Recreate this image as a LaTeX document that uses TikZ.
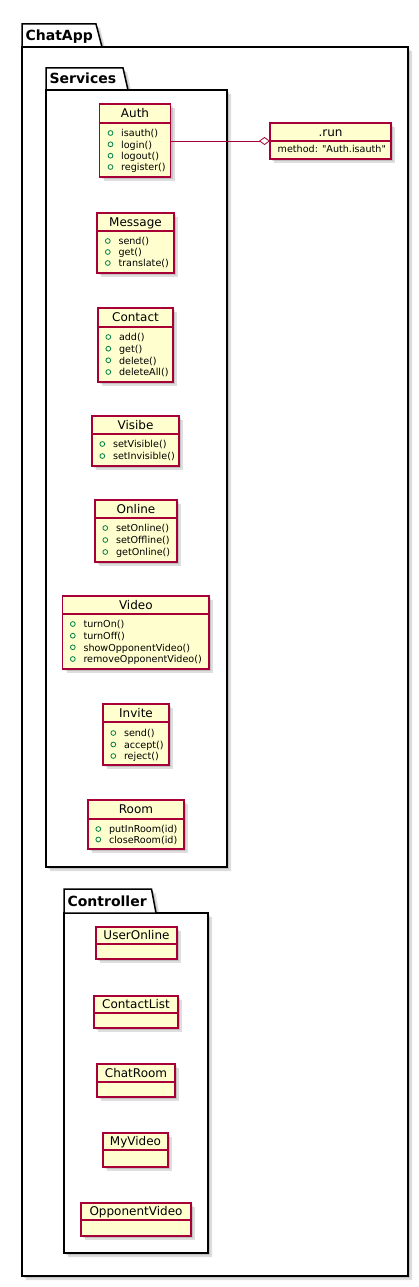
\documentclass[tikz,border=0pt]{standalone}
\usepackage{fontspec}
\setmainfont{DejaVu Sans}
\usetikzlibrary{fit,arrows.meta}
\definecolor{clsfill}{HTML}{FEFECE}
\definecolor{clsline}{HTML}{A80036}
\definecolor{visgreen}{HTML}{038048}
\tikzset{
 clsbox/.style={draw=clsline, fill=clsfill, line width=1.2pt, inner sep=0pt, outer sep=0pt},
 clssep/.style={draw=clsline, line width=1.2pt},
 clsname/.style={font=\fontsize{12}{14}\selectfont, inner sep=0pt, anchor=base},
 meth/.style={font=\fontsize{9.6}{11}\selectfont, inner sep=0pt, anchor=base west},
 vis/.style={draw=visgreen, line width=0.8pt},
 pkgline/.style={draw=black, line width=1.5pt, fill=white, line join=miter},
 pkgbody/.style={draw=black, line width=1.5pt, fill=white, inner sep=0pt, outer sep=0pt},
 pkgname/.style={font=\bfseries\fontsize{14}{16}\selectfont, inner sep=0pt, anchor=base west},
 shadowc/.style={fill=black, opacity=0.13},
 assoc/.style={draw=clsline, line width=0.8pt},
}
% #1 id, #2 title, #3 x1, #4 y1, #5 x2, #6 y2, #7 separator y
\newcommand\umlcls[7]{%
 \fill[shadowc] (#3+2,#4+2) rectangle (#5+2,#6+2);
 \fill[shadowc] (#3+4,#4+4) rectangle (#5+4,#6+4);
 \node[clsbox, fit={(#3,#4)(#5,#6)}] (#1) {};
 \draw[clssep] (#3,#7) -- (#5,#7);
 \node[clsname] (#1-title) at ({(#3+#5)/2},{(#4+#7)/2+4.4}) {#2};
}
% #1 id, #2 box left x, #3 centre y, #4 text
\newcommand\umlmeth[4]{%
 \draw[vis] (#2+10.3,#3) circle (2.4pt);
 \node[meth] (#1) at (#2+20.8,#3+3.7) {#4};
}
% #1 id, #2 x1, #3 tab top, #4 body top, #5 x2, #6 y2, #7 tab top right, #8 tab bottom right
\newcommand\umlpkg[9]{%
 \fill[shadowc] (#2+2,#3+2) -- (#7+2,#3+2) -- (#8+2,#4+2) -- (#5+2,#4+2) -- (#5+2,#6+2) -- (#2+2,#6+2) -- cycle;
 \fill[shadowc] (#2+4,#3+4) -- (#7+4,#3+4) -- (#8+4,#4+4) -- (#5+4,#4+4) -- (#5+4,#6+4) -- (#2+4,#6+4) -- cycle;
 \node[pkgbody, fit={(#2,#4)(#5,#6)}] (#1) {};
 \draw[pkgline] (#2,#4) -- (#2,#3) -- (#7,#3) -- (#8,#4) -- cycle;
 \node[pkgname] (#1-name) at (#2+3.4,{(#3+#4)/2+5}) {#9};
}
\begin{document}
\begin{tikzpicture}[x=1pt,y=-1pt]
\useasboundingbox (0,0) rectangle (419,1287);
% packages
\umlpkg{chatapp}{22}{24}{47}{408}{1276}{96}{102}{ChatApp}
\umlpkg{services}{46}{68}{90}{227}{867}{123}{128}{Services}
\umlpkg{controller}{64}{889}{913}{208}{1253}{151.5}{156}{Controller}
% Services classes
\umlcls{auth}{Auth}{99.5}{104}{170.5}{177}{123}
\umlmeth{auth-1}{100.2}{133}{isauth()}
\umlmeth{auth-2}{100.2}{144.3}{login()}
\umlmeth{auth-3}{100.2}{155.7}{logout()}
\umlmeth{auth-4}{100.2}{167}{register()}

\umlcls{message}{Message}{97}{213}{174}{273}{231}
\umlmeth{message-1}{97.5}{241}{send()}
\umlmeth{message-2}{97.5}{252}{get()}
\umlmeth{message-3}{97.5}{263}{translate()}

\umlcls{contact}{Contact}{98}{308}{173}{382}{327}
\umlmeth{contact-1}{98}{337}{add()}
\umlmeth{contact-2}{98}{348.7}{get()}
\umlmeth{contact-3}{98}{360.3}{delete()}
\umlmeth{contact-4}{98}{372}{deleteAll()}

\umlcls{visibe}{Visibe}{92}{416}{179}{466}{434}
\umlmeth{visibe-1}{92}{444}{setVisible()}
\umlmeth{visibe-2}{92}{456}{setInvisible()}

\umlcls{online}{Online}{95}{500}{177}{562}{518}
\umlmeth{online-1}{95}{528}{setOnline()}
\umlmeth{online-2}{95}{540}{setOffline()}
\umlmeth{online-3}{95}{552}{getOnline()}

\umlcls{video}{Video}{62.7}{596}{209}{669}{614}
\umlmeth{video-1}{62.5}{624}{turnOn()}
\umlmeth{video-2}{62.5}{635.7}{turnOff()}
\umlmeth{video-3}{62.5}{647.3}{showOpponentVideo()}
\umlmeth{video-4}{62.5}{659}{removeOpponentVideo()}

\umlcls{invite}{Invite}{103}{704}{169}{765}{722}
\umlmeth{invite-1}{103}{733}{send()}
\umlmeth{invite-2}{103}{744.5}{accept()}
\umlmeth{invite-3}{103}{756}{reject()}

\umlcls{room}{Room}{88}{800}{184}{849}{819}
\umlmeth{room-1}{88}{829}{putInRoom(id)}
\umlmeth{room-2}{88}{839.5}{closeRoom(id)}

% .run
\umlcls{run}{.run}{270}{123}{391}{159}{141}
\node[meth] (run-1) at (277.5,153) {method: \textquotedbl Auth.isauth\textquotedbl};

% Controller classes
\umlcls{useronline}{UserOnline}{96}{927}{177}{959}{944}
\umlcls{contactlist}{ContactList}{94}{996}{178}{1028}{1013}
\umlcls{chatroom}{ChatRoom}{97}{1064}{175}{1097}{1082}
\umlcls{myvideo}{MyVideo}{103}{1133}{168}{1167}{1150}
\umlcls{opponentvideo}{OpponentVideo}{81}{1203}{191}{1236}{1220}

% connector
\draw[assoc, -{Diamond[fill=white, length=11pt, width=8pt]}] (run.west -| auth.east) -- (run.west);
\end{tikzpicture}
\end{document}
